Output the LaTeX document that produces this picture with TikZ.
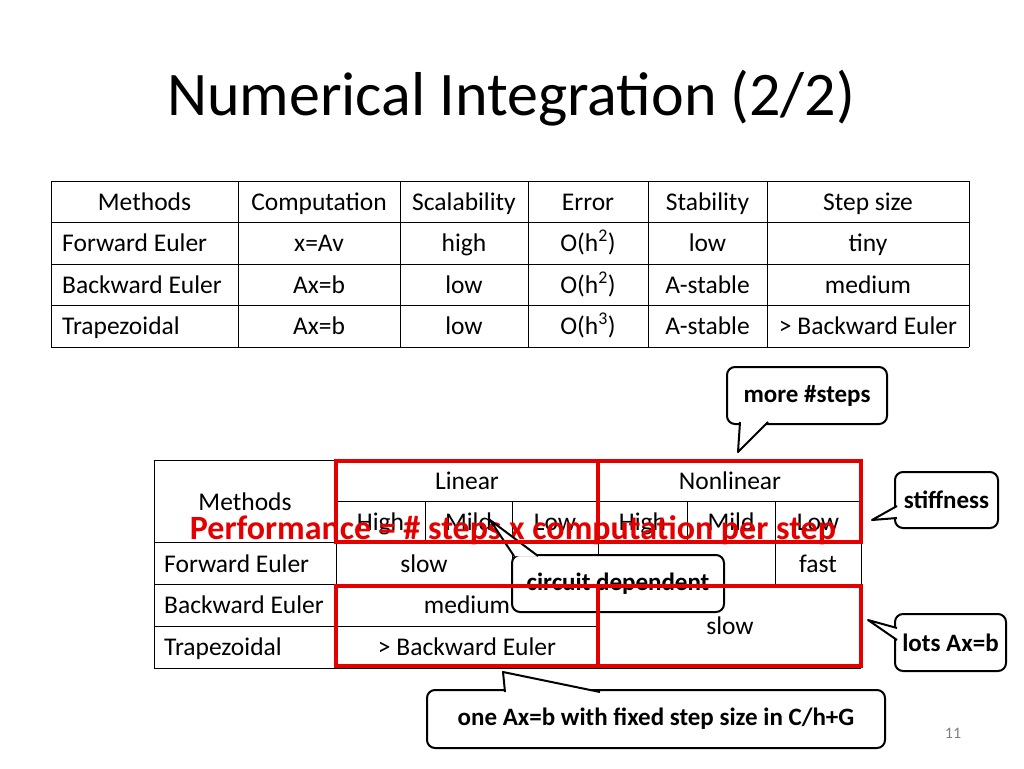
\documentclass[tikz,border=0pt]{standalone}
\usepackage{fontspec}
\setmainfont{Carlito}
\begin{document}
\begin{tikzpicture}[x=1pt,y=-1pt,
  tt/.style={font=\fontsize{25.5}{28}\selectfont,inner sep=0pt,text height=16pt,text depth=0pt},
  callout/.style={draw=black,line width=2pt,rounded corners=8pt,fill=white,font=\fontsize{25}{28}\selectfont\bfseries,inner sep=0pt},
  redbox/.style={draw=red!90!black,line width=3.2pt},
  grid/.style={line width=1pt}]
\useasboundingbox (0,0) rectangle (1024,768);
\node[font=\fontsize{62}{70}\selectfont,anchor=center] (title) at (511,98) {Numerical Integration (2/2)};
% top table
\foreach \y in {181,222,264,305,347} \draw[grid] (51,\y) -- (969,\y);
\foreach \x in {51,238,400,528,648,767,969} \draw[grid] (\x,181) -- (\x,347);
\node[tt] (h1) at (144.5,202) {Methods};
\node[tt] (h2) at (319,202) {Computation};
\node[tt] (h3) at (464,202) {Scalability};
\node[tt] (h4) at (588,202) {Error};
\node[tt] (h5) at (707.5,202) {Stability};
\node[tt] (h6) at (868,202) {Step size};
\node[tt,anchor=west] (r1) at (62,243) {Forward Euler};
\node[tt,anchor=west] (r2) at (62,285) {Backward Euler};
\node[tt,anchor=west] (r3) at (62,326) {Trapezoidal};
\node[tt] (a2) at (319,243) {x=Av};
\node[tt] (a3) at (464,243) {high};
\node[tt] (a4) at (588,243) {O(h\textsuperscript{2})};
\node[tt] (a5) at (707.5,243) {low};
\node[tt] (a6) at (868,243) {tiny};
\node[tt] (b2) at (319,285) {Ax=b};
\node[tt] (b3) at (464,285) {low};
\node[tt] (b4) at (588,285) {O(h\textsuperscript{2})};
\node[tt] (b5) at (707.5,285) {A-stable};
\node[tt] (b6) at (868,285) {medium};
\node[tt] (c2) at (319,326) {Ax=b};
\node[tt] (c3) at (464,326) {low};
\node[tt] (c4) at (588,326) {O(h\textsuperscript{3})};
\node[tt] (c5) at (707.5,326) {A-stable};
\node[tt] (c6) at (868,326) {> Backward Euler};
% bottom table
\draw[grid] (154,460) -- (861,460);
\draw[grid] (336,501) -- (861,501);
\draw[grid] (154,542) -- (861,542);
\draw[grid] (154,584) -- (861,584);
\draw[grid] (154,626) -- (598,626);
\draw[grid] (154,668) -- (861,668);
\draw[grid] (154,460) -- (154,668);
\draw[grid] (336,460) -- (336,668);
\draw[grid] (598,460) -- (598,668);
\draw[grid] (861,460) -- (861,668);
\foreach \x in {425,512,687,775} \draw[grid] (\x,501) -- (\x,542);
\draw[grid] (512,542) -- (512,584);
\draw[grid] (775,542) -- (775,584);
\node[tt] (m0) at (245,502) {Methods};
\node[tt] (lin) at (467,481) {Linear};
\node[tt] (nlin) at (730,481) {Nonlinear};
\node[tt] (s1) at (380.5,522) {High};
\node[tt] (s2) at (468.5,522) {Mild};
\node[tt] (s3) at (555,522) {Low};
\node[tt] (s4) at (642.5,522) {High};
\node[tt] (s5) at (731,522) {Mild};
\node[tt] (s6) at (818,522) {Low};
\node[tt,anchor=west] (q1) at (164,564) {Forward Euler};
\node[tt,anchor=west] (q2) at (164,605) {Backward Euler};
\node[tt,anchor=west] (q3) at (164,647) {Trapezoidal};
\node[tt] (f1) at (424,564) {slow};
\node[tt] (f2) at (818,564) {fast};
\node[tt] (g1) at (467,605) {medium};
\node[tt] (g2) at (730,626) {slow};
\node[tt] (t1) at (467,647) {> Backward Euler};
\node[font=\fontsize{34}{38}\selectfont\bfseries,text=red!90!black,inner sep=0pt] (perf) at (513,530) {Performance = \# steps x computation per step};
% callouts
\node[callout,minimum width=160pt,minimum height=57pt] (cs) at (807,395.5) {more \#steps};
\coordinate (cst) at (738,452);
\node[callout,minimum width=103pt,minimum height=56pt] (cf) at (946.5,500) {stiffness};
\coordinate (cft) at (872,520);
\node[callout,minimum width=111pt,minimum height=57pt] (ca) at (950.5,642.5) {lots Ax=b};
\coordinate (cat) at (868,620);
\node[callout,minimum width=212pt,minimum height=57pt] (cc) at (618,583.5) {circuit dependent};
\coordinate (cct) at (490,520);
\node[callout,minimum width=458pt,minimum height=58pt] (co) at (656,719) {one Ax=b with fixed step size in C/h+G};
\coordinate (cot) at (503,672);
\foreach \p/\a/\b in {cst/{740,422}/{768,422}, cft/{897,506}/{897,518}, cat/{897,628}/{897,640}, cct/{514,556}/{538,556}, cot/{505,692}/{600,692}}{
  \fill[white] (\a) -- (\p) -- (\b) -- cycle;
  \draw[line width=2pt,line join=round] (\a) -- (\p) -- (\b);
}
% red boxes
\draw[redbox] (336,461) rectangle (598,542);
\draw[redbox] (598,461) rectangle (861,542);
\draw[redbox] (336,586) rectangle (598,666);
\draw[redbox] (598,586) rectangle (861,666);
\node[font=\fontsize{16}{18}\selectfont,text=gray,inner sep=0pt] (pg) at (953,733) {11};
\end{tikzpicture}
\end{document}
